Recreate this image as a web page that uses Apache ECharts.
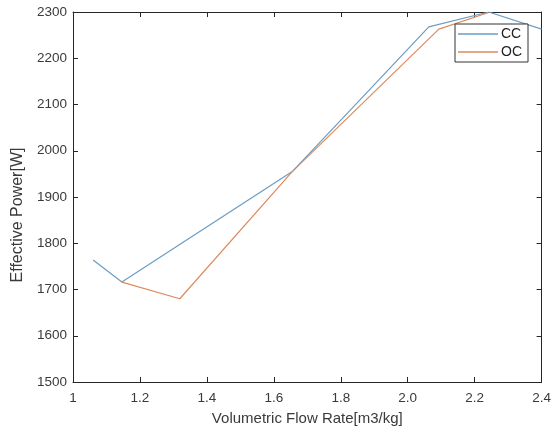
<!DOCTYPE html>
<html><head><meta charset="utf-8">
<script src="https://cdn.jsdelivr.net/npm/echarts@6/dist/echarts.min.js"></script>
<style>html,body{margin:0;padding:0;background:#fff}#c{width:554px;height:434px}</style>
</head><body><div id="c"></div>
<script>
var ccX = [1.06, 1.146, 1.655, 2.063, 2.242, 2.40];
var ccY = [1764, 1716, 1955, 2268, 2300, 2263];
var ocX = [1.146, 1.319, 1.655, 2.093, 2.242];
var ocY = [1716, 1680, 1955, 2263, 2299];
var xTickLabels = ['1', '1.2', '1.4', '1.6', '1.8', '2.0', '2.2', '2.4'];
var yTickLabels = ['1500', '1600', '1700', '1800', '1900', '2000', '2100', '2200', '2300'];
var seriesNames = ['CC', 'OC'];
var xTitle = 'Volumetric Flow Rate[m3/kg]';
var yTitle = 'Effective Power[W]';

function pairs(xs, ys) { return xs.map(function (x, i) { return [x, ys[i]]; }); }

var font = 'Liberation Sans, Arial, sans-serif';
var axisCol = '#262626';
var textCol = '#3a3a3a';
var chart = echarts.init(document.getElementById('c'), null, { renderer: 'canvas' });
var grid = { left: 73, right: 12, top: 12, bottom: 52, containLabel: false };
var baseX = { type: 'value', min: 1, max: 2.4, interval: 0.2, splitLine: { show: false },
  axisLine: { show: true, onZero: false, lineStyle: { color: axisCol, width: 1 } },
  axisTick: { show: true, inside: true, length: 5, lineStyle: { color: axisCol } } };
var baseY = { type: 'value', min: 1500, max: 2300, interval: 100, splitLine: { show: false },
  axisLine: { show: true, onZero: false, lineStyle: { color: axisCol, width: 1 } },
  axisTick: { show: true, inside: true, length: 5, lineStyle: { color: axisCol } } };

chart.setOption({
  animation: false,
  backgroundColor: '#fff',
  grid: grid,
  legend: {
    data: seriesNames.map(function (n) { return { name: n, icon: 'rect' }; }),
    orient: 'vertical', right: 26, top: 24,
    backgroundColor: '#fff', borderColor: '#333', borderWidth: 1, borderRadius: 0,
    padding: [3, 6, 3, 3], itemGap: 4, itemWidth: 40, itemHeight: 1.3,
    textStyle: { fontFamily: font, fontSize: 14, color: '#222', height: 14, lineHeight: 14, padding: [0, 0, 0, -2] }
  },
  xAxis: [
    Object.assign({}, baseX, { position: 'bottom',
      name: xTitle, nameLocation: 'middle', nameGap: 29,
      nameTextStyle: { fontFamily: font, fontSize: 15, color: textCol },
      axisLabel: { fontFamily: font, fontSize: 13.5, color: textCol, margin: 9,
        formatter: function (v) { return xTickLabels[Math.round((v - 1) / 0.2)]; } } }),
    Object.assign({}, baseX, { position: 'top', axisLabel: { show: false } })
  ],
  yAxis: [
    Object.assign({}, baseY, { position: 'left',
      name: yTitle, nameLocation: 'middle', nameGap: 41,
      nameTextStyle: { fontFamily: font, fontSize: 16, color: textCol, padding: [0, 0, 0, -36] },
      axisLabel: { fontFamily: font, fontSize: 13.5, color: textCol, margin: 6,
        formatter: function (v) { return yTickLabels[Math.round((v - 1500) / 100)]; } } }),
    Object.assign({}, baseY, { position: 'right', axisLabel: { show: false } })
  ],
  series: [
    { name: seriesNames[0], type: 'line', data: pairs(ccX, ccY), symbol: 'none', showSymbol: false,
      lineStyle: { color: '#6a9dc3', width: 1.2 }, itemStyle: { color: '#6a9dc3' }, clip: true },
    { name: seriesNames[1], type: 'line', data: pairs(ocX, ocY), symbol: 'none', showSymbol: false,
      lineStyle: { color: '#dc8a5e', width: 1.2 }, itemStyle: { color: '#dc8a5e' }, clip: true }
  ]
});
</script></body></html>
